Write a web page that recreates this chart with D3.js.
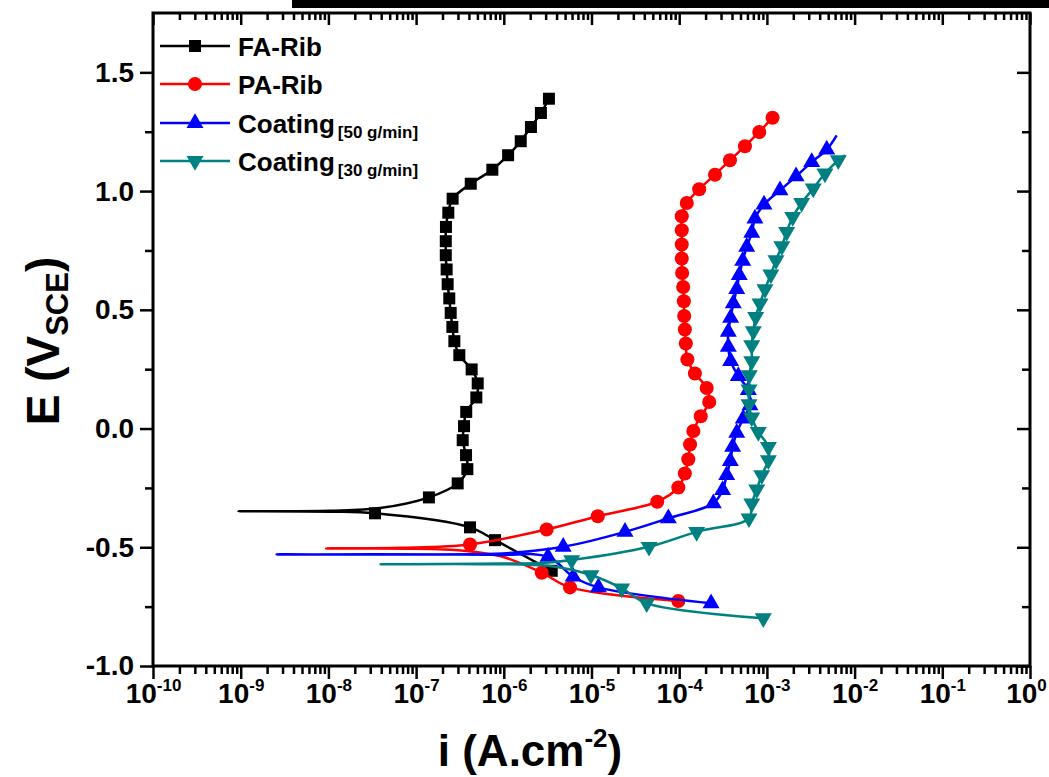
<!DOCTYPE html>
<html>
<head>
<meta charset="utf-8">
<script src="https://cdn.jsdelivr.net/npm/d3@7/dist/d3.min.js"></script>
<style>
  body { margin: 0; background: #fff; }
  svg { display: block; }
  text { font-family: Arial, "Liberation Sans", sans-serif; font-weight: bold; fill: #000; }
</style>
</head>
<body>
<div id="chart"></div>
<script>
// axis ticks
const decadeTicks = [1e-10, 1e-9, 1e-8, 1e-7, 1e-6, 1e-5, 1e-4, 1e-3, 1e-2, 1e-1, 1];
const eTicks = [-1.0, -0.5, 0.0, 0.5, 1.0, 1.5];
const eMinorTicks = [-0.75, -0.25, 0.25, 0.75, 1.25];

// [i (A/cm2), E (V)] -- cathodic branch (marked), around Ecorr (line only), anodic branch (marked), tail (line only)
const faRibCathodic = [[3.52e-6, -0.599], [7.94e-7, -0.470], [4.12e-7, -0.416], [3.4e-8, -0.357]];
const faRibEcorr = [[1.04e-8, -0.350], [9.4e-10, -0.348], [1.04e-8, -0.346], [3.87e-8, -0.335]];
const faRibAnodic = [
  [1.40e-7, -0.290], [2.98e-7, -0.231], [3.84e-7, -0.171], [3.71e-7, -0.112], [3.40e-7, -0.049],
  [3.52e-7, 0.010], [3.73e-7, 0.070], [4.86e-7, 0.131], [5.04e-7, 0.190], [4.30e-7, 0.249],
  [3.11e-7, 0.309], [2.73e-7, 0.368], [2.59e-7, 0.428], [2.48e-7, 0.487], [2.39e-7, 0.548],
  [2.29e-7, 0.608], [2.23e-7, 0.670], [2.18e-7, 0.730], [2.18e-7, 0.789], [2.19e-7, 0.849],
  [2.33e-7, 0.909], [2.61e-7, 0.968], [4.2e-7, 1.031], [7.4e-7, 1.090], [1.12e-6, 1.151],
  [1.56e-6, 1.210], [2.04e-6, 1.270], [2.65e-6, 1.329], [3.27e-6, 1.389]
];
const faRibTail = [];

const paRibCathodic = [[9.77e-5, -0.726], [5.69e-6, -0.669], [2.71e-6, -0.607]];
const paRibEcorr = [[9.05e-7, -0.537], [2.44e-7, -0.510], [9.4e-9, -0.505], [6.55e-8, -0.502]];
const paRibAnodic = [
  [4.12e-7, -0.488], [3.08e-6, -0.425], [1.18e-5, -0.369], [5.62e-5, -0.308], [9.77e-5, -0.248],
  [1.16e-4, -0.189], [1.27e-4, -0.129], [1.33e-4, -0.067], [1.45e-4, -0.010], [1.76e-4, 0.052],
  [2.20e-4, 0.112], [2.06e-4, 0.171], [1.51e-4, 0.232], [1.24e-4, 0.291], [1.19e-4, 0.358],
  [1.16e-4, 0.417], [1.14e-4, 0.474], [1.13e-4, 0.536], [1.11e-4, 0.596], [1.08e-4, 0.655],
  [1.07e-4, 0.716], [1.07e-4, 0.775], [1.07e-4, 0.835], [1.07e-4, 0.894], [1.22e-4, 0.950],
  [1.69e-4, 1.008], [2.56e-4, 1.069], [3.79e-4, 1.130], [5.62e-4, 1.189], [8.18e-4, 1.249],
  [1.16e-3, 1.309]
];
const paRibTail = [];

const coat50Cathodic = [[2.31e-4, -0.736], [1.20e-5, -0.669], [6.19e-6, -0.624], [3.19e-6, -0.540]];
const coat50Ecorr = [[8.0e-7, -0.532], [2.57e-9, -0.530], [8.0e-7, -0.527], [1.53e-6, -0.520]];
const coat50Anodic = [
  [4.76e-6, -0.498], [2.41e-5, -0.435], [7.52e-5, -0.378], [2.45e-4, -0.315], [3.13e-4, -0.259],
  [3.48e-4, -0.196], [3.83e-4, -0.137], [4.07e-4, -0.077], [4.53e-4, -0.018], [5.38e-4, 0.042],
  [6.41e-4, 0.098], [6.14e-4, 0.162], [4.72e-4, 0.221], [3.86e-4, 0.284], [3.63e-4, 0.344],
  [3.63e-4, 0.407], [3.86e-4, 0.466], [4.14e-4, 0.527], [4.53e-4, 0.587], [4.84e-4, 0.646],
  [5.30e-4, 0.706], [5.89e-4, 0.765], [6.72e-4, 0.824], [7.31e-4, 0.884], [9.27e-4, 0.943],
  [1.41e-3, 1.003], [2.15e-3, 1.062], [3.24e-3, 1.122], [4.81e-3, 1.175]
];
const coat50Tail = [[6.25e-3, 1.235]];

const coat30Cathodic = [[9.10e-4, -0.799], [4.26e-5, -0.736], [2.21e-5, -0.673], [9.86e-6, -0.617]];
const coat30Ecorr = [[3.5e-6, -0.580], [5.36e-7, -0.571], [3.94e-8, -0.572], [5.36e-7, -0.569], [3.0e-6, -0.565]];
const coat30Anodic = [
  [5.94e-6, -0.554], [4.53e-5, -0.498], [1.58e-4, -0.435], [6.25e-4, -0.378], [6.72e-4, -0.315],
  [7.66e-4, -0.256], [8.73e-4, -0.196], [1.04e-3, -0.133], [1.04e-3, -0.077], [7.98e-4, -0.014],
  [6.72e-4, 0.047], [6.25e-4, 0.103], [6.25e-4, 0.165], [6.29e-4, 0.225], [6.72e-4, 0.284],
  [6.72e-4, 0.351], [7.00e-4, 0.410], [7.45e-4, 0.470], [8.34e-4, 0.527], [9.51e-4, 0.587],
  [1.11e-3, 0.649], [1.27e-3, 0.709], [1.48e-3, 0.768], [1.68e-3, 0.828], [1.97e-3, 0.891],
  [2.49e-3, 0.950], [3.38e-3, 1.011], [4.59e-3, 1.074], [6.52e-3, 1.130]
];
const coat30Tail = [[7.78e-3, 1.151]];

const seriesNames = ['FA-Rib', 'PA-Rib', 'Coating', 'Coating'];
const seriesSubs = ['', '', '[50 g/min]', '[30 g/min]'];

const series = [
  { name: seriesNames[0], sub: seriesSubs[0], color: '#000000', symbol: 'square',
    parts: [faRibCathodic, faRibEcorr, faRibAnodic, faRibTail] },
  { name: seriesNames[1], sub: seriesSubs[1], color: '#ff0000', symbol: 'circle',
    parts: [paRibCathodic, paRibEcorr, paRibAnodic, paRibTail] },
  { name: seriesNames[2], sub: seriesSubs[2], color: '#0000ff', symbol: 'up',
    parts: [coat50Cathodic, coat50Ecorr, coat50Anodic, coat50Tail] },
  { name: seriesNames[3], sub: seriesSubs[3], color: '#008080', symbol: 'down',
    parts: [coat30Cathodic, coat30Ecorr, coat30Anodic, coat30Tail] }
];

const width = 1049;
const height = 777;
const plot = { left: 153, right: 1030, top: 13, bottom: 666 };

const svg = d3.select('#chart').append('svg')
  .attr('width', width)
  .attr('height', height);

// dark strip along the top edge of the scan
svg.append('rect')
  .attr('x', 292).attr('y', 0)
  .attr('width', width - 292).attr('height', 8)
  .attr('fill', '#000');

const x = d3.scaleLog().domain([1e-10, 1]).range([plot.left, plot.right]);
const y = d3.scaleLinear().domain([-1, 1.75]).range([plot.bottom, plot.top]);

const minorX = [];
decadeTicks.slice(0, -1).forEach(d => {
  for (let m = 2; m <= 9; m++) minorX.push(d * m);
});

const styleAxis = g => {
  g.select('.domain').remove();
  g.selectAll('line').attr('stroke', '#000').attr('stroke-width', 2.5);
};

// bottom axis
const xAxisG = svg.append('g')
  .attr('transform', `translate(0, ${plot.bottom})`)
  .call(d3.axisBottom(x).tickValues(decadeTicks).tickSize(13).tickSizeOuter(0).tickFormat(''))
  .call(styleAxis);
svg.append('g')
  .attr('transform', `translate(0, ${plot.bottom})`)
  .call(d3.axisBottom(x).tickValues(minorX).tickSize(8).tickSizeOuter(0).tickFormat(''))
  .call(styleAxis);

xAxisG.selectAll('.tick').append('text')
  .attr('y', 37)
  .attr('x', d => (d === 1 ? -4 : 0))
  .attr('text-anchor', 'middle')
  .attr('font-size', 28)
  .each(function (d) {
    const t = d3.select(this);
    t.append('tspan').text('10');
    t.append('tspan')
      .attr('font-size', 17)
      .attr('dy', -12)
      .text(Math.round(Math.log10(d)));
  });

// top axis (inward ticks)
svg.append('g')
  .attr('transform', `translate(0, ${plot.top})`)
  .call(d3.axisBottom(x).tickValues(decadeTicks).tickSize(12).tickSizeOuter(0).tickFormat(''))
  .call(styleAxis);
svg.append('g')
  .attr('transform', `translate(0, ${plot.top})`)
  .call(d3.axisBottom(x).tickValues(minorX).tickSize(7).tickSizeOuter(0).tickFormat(''))
  .call(styleAxis);

// left axis
svg.append('g')
  .attr('transform', `translate(${plot.left}, 0)`)
  .call(d3.axisLeft(y).tickValues(eTicks).tickSize(13).tickSizeOuter(0).tickPadding(6)
    .tickFormat(d => d.toFixed(1)))
  .call(styleAxis)
  .call(g => g.selectAll('text').attr('font-size', 28).attr('fill', '#000'));
svg.append('g')
  .attr('transform', `translate(${plot.left}, 0)`)
  .call(d3.axisLeft(y).tickValues(eMinorTicks).tickSize(8).tickSizeOuter(0).tickFormat(''))
  .call(styleAxis);

// right axis (inward ticks)
svg.append('g')
  .attr('transform', `translate(${plot.right}, 0)`)
  .call(d3.axisLeft(y).tickValues(eTicks).tickSize(13).tickSizeOuter(0).tickFormat(''))
  .call(styleAxis);
svg.append('g')
  .attr('transform', `translate(${plot.right}, 0)`)
  .call(d3.axisLeft(y).tickValues(eMinorTicks).tickSize(8).tickSizeOuter(0).tickFormat(''))
  .call(styleAxis);

// frame
svg.append('rect')
  .attr('x', plot.left).attr('y', plot.top)
  .attr('width', plot.right - plot.left)
  .attr('height', plot.bottom - plot.top)
  .attr('fill', 'none')
  .attr('stroke', '#000')
  .attr('stroke-width', 3);

// axis titles
const xTitle = svg.append('text')
  .attr('x', 530).attr('y', 766)
  .attr('text-anchor', 'middle')
  .attr('font-size', 44);
xTitle.append('tspan').text('i (A.cm');
xTitle.append('tspan').attr('font-size', 26).attr('dy', -19).text('-2');
xTitle.append('tspan').attr('dy', 19).text(')');

const yTitle = svg.append('text')
  .attr('transform', `translate(59, 341) rotate(-90)`)
  .attr('text-anchor', 'middle')
  .attr('font-size', 46);
yTitle.append('tspan').text('E (V');
yTitle.append('tspan').attr('font-size', 31).attr('dy', 9).text('SCE');
yTitle.append('tspan').attr('dy', -9).text(')');

// symbols
const symbolPath = {
  square: d3.symbol(d3.symbolSquare, 144)(),
  circle: d3.symbol(d3.symbolCircle, 155)(),
  up: d3.symbol(d3.symbolTriangle, 125)(),
  down: d3.symbol(d3.symbolTriangle, 125)()
};
const symbolRotate = { square: 0, circle: 0, up: 0, down: 180 };

const line = d3.line()
  .x(d => x(d[0]))
  .y(d => y(d[1]))
  .curve(d3.curveCatmullRom.alpha(0.5));

const plotG = svg.append('g');

series.forEach(s => {
  const [cath, ecorr, anod, tail] = s.parts;
  const g = plotG.append('g');
  g.append('path')
    .datum(cath.concat(ecorr, anod, tail))
    .attr('d', line)
    .attr('fill', 'none')
    .attr('stroke', s.color)
    .attr('stroke-width', 2.5);
  g.selectAll('path.mark')
    .data(cath.concat(anod))
    .enter().append('path')
    .attr('class', 'mark')
    .attr('d', symbolPath[s.symbol])
    .attr('transform', d => `translate(${x(d[0])}, ${y(d[1])}) rotate(${symbolRotate[s.symbol]})`)
    .attr('fill', s.color);
});

// legend
const legend = svg.append('g');
const rowY = [46, 84, 123, 161];
series.forEach((s, idx) => {
  const r = legend.append('g').attr('transform', `translate(0, ${rowY[idx]})`);
  r.append('line')
    .attr('x1', 160).attr('x2', 230)
    .attr('stroke', s.color).attr('stroke-width', 2.5);
  r.append('path')
    .attr('d', symbolPath[s.symbol])
    .attr('transform', `translate(195, 0) rotate(${symbolRotate[s.symbol]})`)
    .attr('fill', s.color);
  const t = r.append('text')
    .attr('x', 238).attr('y', 9.5)
    .attr('font-size', 26);
  t.append('tspan').text(s.name);
  if (s.sub) {
    t.append('tspan').attr('font-size', 17).attr('dx', 3).attr('dy', 5).text(s.sub);
  }
});
</script>
</body>
</html>
